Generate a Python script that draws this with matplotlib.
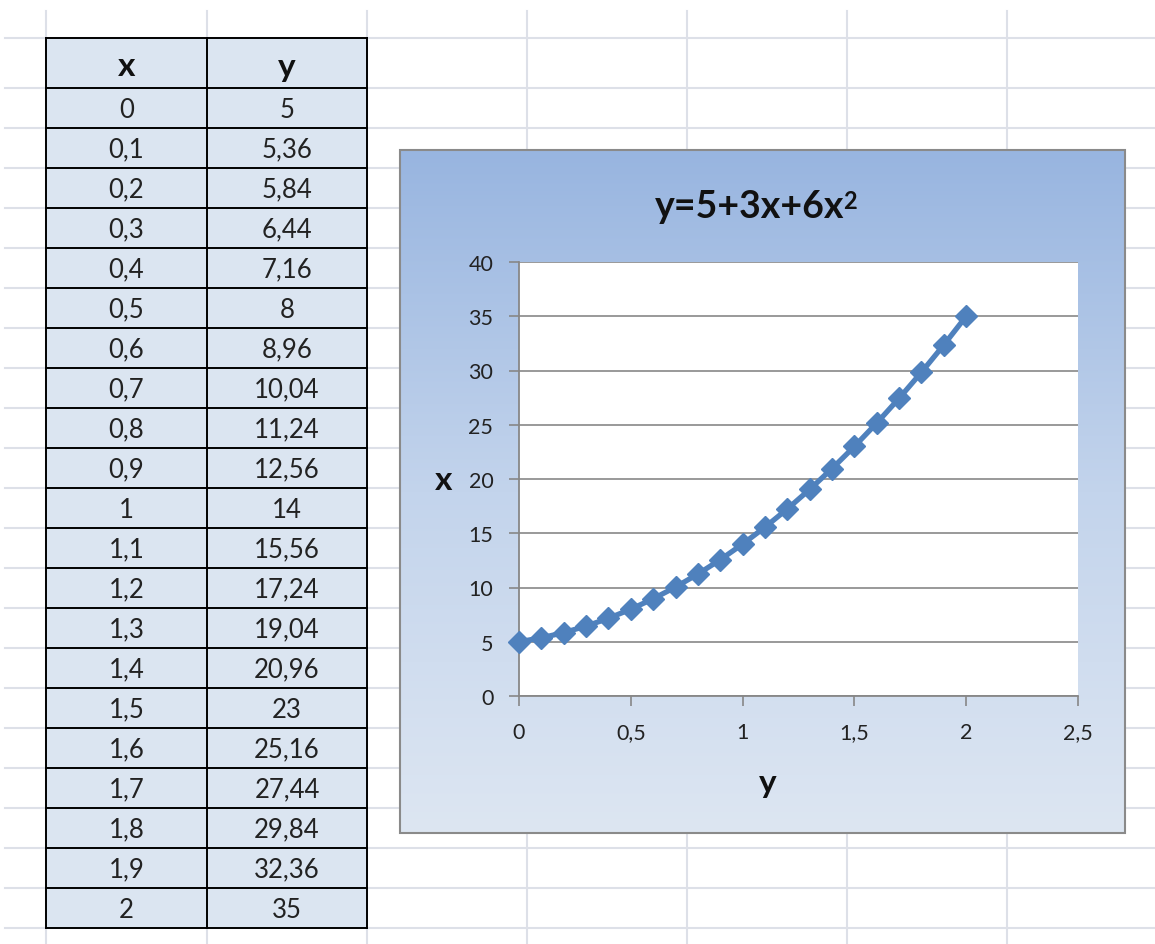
import numpy as np
import matplotlib
matplotlib.use('Agg')
import matplotlib.pyplot as plt
from matplotlib.colors import LinearSegmentedColormap

# ---- data ----
x_vals = [0, 0.1, 0.2, 0.3, 0.4, 0.5, 0.6, 0.7, 0.8, 0.9, 1,
          1.1, 1.2, 1.3, 1.4, 1.5, 1.6, 1.7, 1.8, 1.9, 2]
y_vals = [5, 5.36, 5.84, 6.44, 7.16, 8, 8.96, 10.04, 11.24, 12.56, 14,
          15.56, 17.24, 19.04, 20.96, 23, 25.16, 27.44, 29.84, 32.36, 35]
col_headers = ['x', 'y']
chart_title = 'y=5+3x+6x'
title_sup = '2'
x_axis_label = 'y'
y_axis_label = 'x'
x_ticks = [0, 0.5, 1, 1.5, 2, 2.5]
y_ticks = [0, 5, 10, 15, 20, 25, 30, 35, 40]

FONT = ['Lato', 'DejaVu Sans']
plt.rcParams['font.family'] = FONT


def fmt(v):
    return ('%g' % v).replace('.', ',')


W, H = 1155, 945
fig = plt.figure(figsize=(W / 100, H / 100), dpi=100)
fig.patch.set_facecolor('white')

bg = fig.add_axes([0, 0, 1, 1])
bg.set_xlim(0, W)
bg.set_ylim(H, 0)
bg.axis('off')

grid_c = '#dde0e8'
# spreadsheet grid
col_edges = [46, 207, 367, 527, 687, 847, 1007]
row_edges = [39] + [89 + 40 * i for i in range(22)]
for cx in col_edges:
    bg.plot([cx, cx], [12, H], color=grid_c, lw=1.5, zorder=1)
for ry in row_edges:
    bg.plot([5, W], [ry, ry], color=grid_c, lw=1.5, zorder=1)

# table
t_left, t_mid, t_right = 46, 207, 367
t_top = 39
t_bottom = row_edges[-1]
bg.add_patch(plt.Rectangle((t_left, t_top), t_right - t_left, t_bottom - t_top,
                           facecolor='#dbe5f1', edgecolor='none', zorder=2))
for ry in row_edges:
    bg.plot([t_left, t_right], [ry, ry], color='black', lw=1.4, zorder=3)
for cx in [t_left, t_mid, t_right]:
    bg.plot([cx, cx], [t_top, t_bottom], color='black', lw=1.4, zorder=3)

cx1 = (t_left + t_mid) / 2
cx2 = (t_mid + t_right) / 2
for cx, hdr in zip([cx1, cx2], col_headers):
    bg.text(cx, 67, hdr, ha='center', va='center', fontsize=24,
            fontweight='bold', color='#111111', zorder=4)
for i, (xv, yv) in enumerate(zip(x_vals, y_vals)):
    yc = 89 + 40 * i + 21
    bg.text(cx1, yc, fmt(xv), ha='center', va='center', fontsize=18.5,
            color='#222222', zorder=4)
    bg.text(cx2, yc, fmt(yv), ha='center', va='center', fontsize=18.5,
            color='#222222', zorder=4)

# chart area with gradient
c_l, c_r, c_t, c_b = 400, 1125, 151, 834
cmap = LinearSegmentedColormap.from_list('g', ['#98b5e0', '#c3d4ec', '#dde6f2'])
grad = np.linspace(0, 1, 256).reshape(-1, 1)
bg.imshow(grad, cmap=cmap, extent=[c_l, c_r, c_b, c_t], aspect='auto', zorder=5)
bg.add_patch(plt.Rectangle((c_l, c_t), c_r - c_l, c_b - c_t, facecolor='none',
                           edgecolor='#8a8a8a', lw=1.5, zorder=6))
bg.set_xlim(0, W)
bg.set_ylim(H, 0)

t_main = bg.text(750, 207, chart_title, ha='center', va='center',
                 fontsize=27, fontweight='bold', color='#111111', zorder=7)
bg.annotate(title_sup, xy=(1, 1), xycoords=t_main, xytext=(-1, 0),
            textcoords='offset points', ha='left', va='top', fontsize=17,
            fontweight='bold', color='#111111', zorder=7)
bg.text(768, 783, x_axis_label, ha='center', va='center', fontsize=24,
        fontweight='bold', color='#111111', zorder=7)
bg.text(444, 481, y_axis_label, ha='center', va='center', fontsize=24,
        fontweight='bold', color='#111111', zorder=7)

# plot area
p_l, p_r, p_t, p_b = 519, 1078, 263, 697
ax = fig.add_axes([p_l / W, (H - p_b) / H, (p_r - p_l) / W, (p_b - p_t) / H])
ax.set_facecolor('white')
ax.set_zorder(10)
ax.set_xlim(0, 2.5)
ax.set_ylim(0, 40)
ax.set_xticks(x_ticks)
ax.set_yticks(y_ticks)
ax.set_xticklabels([fmt(v) for v in x_ticks])
ax.set_yticklabels([fmt(v) for v in y_ticks])
ax_c = '#878787'
ax.grid(axis='y', color=ax_c, lw=1.2)
ax.set_axisbelow(True)
for s in ['top', 'right']:
    ax.spines[s].set_visible(False)
for s in ['left', 'bottom']:
    ax.spines[s].set_color(ax_c)
    ax.spines[s].set_linewidth(1.3)
ax.tick_params(axis='both', direction='out', length=7.5, width=1.2, color=ax_c,
               labelsize=15.5, labelcolor='#222222')
ax.tick_params(axis='x', pad=11)
ax.tick_params(axis='y', pad=11)

ax.plot(x_vals, y_vals, color='#4f81bd', lw=3.8, marker='D', markersize=11.5,
        markeredgecolor='#4f81bd', clip_on=False, zorder=5)

fig.savefig('out.png', dpi=100)
